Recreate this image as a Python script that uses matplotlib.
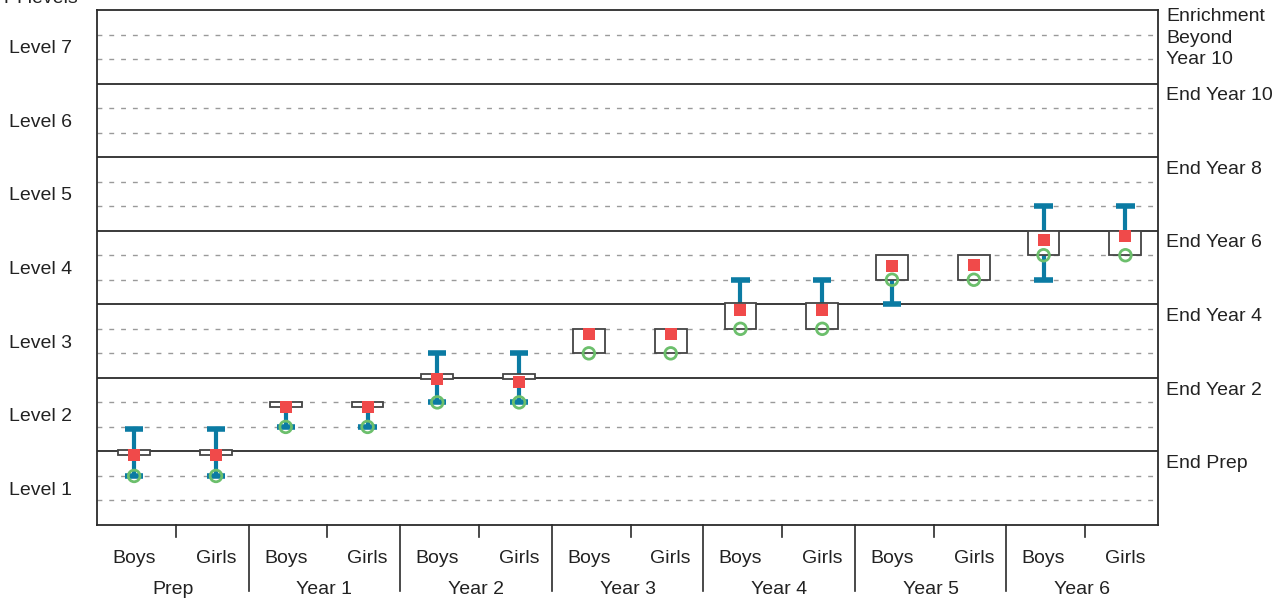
import numpy as np
import matplotlib.pyplot as plt

plt.rcParams['font.family'] = ['Liberation Sans', 'DejaVu Sans']

# year groups and sexes
groups = ['Prep', 'Year 1', 'Year 2', 'Year 3', 'Year 4', 'Year 5', 'Year 6']
sexes = ['Boys', 'Girls']

# values in thirds of a level (3 units per level), boys then girls for each group
whisker_lo = [2.0, 2.0, 4.0, 4.0, 5.0, 5.0, 7.0, 7.0, 8.0, 8.0, 9.0, 10.0, 10.0, 11.0]
box_lo = [2.85, 2.85, 4.8, 4.8, 5.95, 5.95, 7.0, 7.0, 8.0, 8.0, 10.0, 10.0, 11.0, 11.0]
box_hi = [3.05, 3.05, 5.02, 5.02, 6.15, 6.15, 8.0, 8.0, 9.05, 9.05, 11.0, 11.0, 12.0, 12.0]
whisker_hi = [3.9, 3.9, 5.02, 5.02, 7.0, 7.0, 8.0, 8.0, 10.0, 10.0, 11.0, 11.0, 13.0, 13.0]
means = [2.86, 2.86, 4.81, 4.81, 5.95, 5.82, 7.79, 7.79, 8.75, 8.75, 10.55, 10.62, 11.64, 11.77]
medians = [2.0, 2.0, 4.0, 4.0, 5.0, 5.0, 7.0, 7.0, 8.0, 8.0, 10.0, 10.0, 11.0, 11.0]

level_labels = ['Level 1', 'Level 2', 'Level 3', 'Level 4', 'Level 5', 'Level 6', 'Level 7']
end_labels = ['End Prep', 'End Year 2', 'End Year 4', 'End Year 6', 'End Year 8',
              'End Year 10', 'Enrichment\nBeyond\nYear 10']

teal = '#0b7ba3'
red = '#f04a4a'
green = '#6cbf6c'
dark = '#2b2b2b'
txt = '#222222'
fs = 14

fig = plt.figure(figsize=(12.86, 5.99), dpi=100)
ax = fig.add_axes([97/1286, 1 - 525/599, (1158 - 97)/1286, (525 - 10)/599])

ax.set_xlim(0, len(groups))
ax.set_ylim(0, 21)

# level bands
for y in range(1, 21):
    if y % 3 == 0:
        ax.axhline(y, color=dark, lw=1.3, zorder=1)
    else:
        ax.axhline(y, color='#9a9a9a', lw=1.0, ls=(0, (3.5, 5)), zorder=1)

xs = []
for g in range(len(groups)):
    xs += [g + 0.245, g + 0.785]

bw = 0.21
cw = 0.12
for i, x in enumerate(xs):
    lo, hi = whisker_lo[i], whisker_hi[i]
    q1, q3 = box_lo[i], box_hi[i]
    if lo < q1:
        ax.plot([x, x], [lo, q1], color=teal, lw=3, zorder=2, solid_capstyle='butt')
        ax.plot([x - cw/2, x + cw/2], [lo, lo], color=teal, lw=4, zorder=2, solid_capstyle='butt')
    if hi > q3:
        ax.plot([x, x], [q3, hi], color=teal, lw=3, zorder=2, solid_capstyle='butt')
        ax.plot([x - cw/2, x + cw/2], [hi, hi], color=teal, lw=4, zorder=2, solid_capstyle='butt')
    ax.add_patch(plt.Rectangle((x - bw/2, q1), bw, q3 - q1, facecolor='white',
                               edgecolor='#444444', lw=1.3, zorder=3))

ax.scatter(xs, means, marker='s', s=72, color=red, zorder=4, linewidths=0)
ax.scatter(xs, medians, marker='o', s=70, facecolor='none', edgecolor=green, linewidths=2, zorder=5)

for s in ax.spines.values():
    s.set_color(dark)
    s.set_linewidth(1.3)

ax.set_yticks([1.5 + 3 * k for k in range(7)])
ax.set_yticklabels(level_labels, fontsize=fs, color=txt)
ax.tick_params(axis='y', length=0, pad=18)
ax.set_xticks([])

# right side labels, just under each band boundary
for k, lab in enumerate(end_labels[:-1]):
    ax.text(1.008, (3 * (k + 1) - 0.15) / 21, lab, transform=ax.transAxes,
            fontsize=fs, color=txt, va='top', ha='left')
ax.text(1.008, 21.08 / 21, end_labels[-1], transform=ax.transAxes,
        fontsize=fs, color=txt, va='top', ha='left', linespacing=1.36)

# bottom category labels and separators
trans = ax.get_xaxis_transform()
for g, name in enumerate(groups):
    ax.text(g + 0.245, -0.066, sexes[0], transform=trans, ha='center', va='center',
            fontsize=fs, color=txt)
    ax.text(g + 0.785, -0.066, sexes[1], transform=trans, ha='center', va='center',
            fontsize=fs, color=txt)
    ax.text(g + 0.5, -0.126, name, transform=trans, ha='center', va='center',
            fontsize=fs, color=txt)
    ax.plot([g + 0.52, g + 0.52], [0, -0.023], transform=trans, color=dark, lw=1.2, clip_on=False)
    if g > 0:
        ax.plot([g, g], [0, -0.128], transform=trans, color=dark, lw=1.2, clip_on=False)

fig.text(78/1286, 1 - 3/599, 'FPI levels', ha='right', va='baseline', fontsize=fs, color=txt)

fig.savefig('out.png', dpi=100)
